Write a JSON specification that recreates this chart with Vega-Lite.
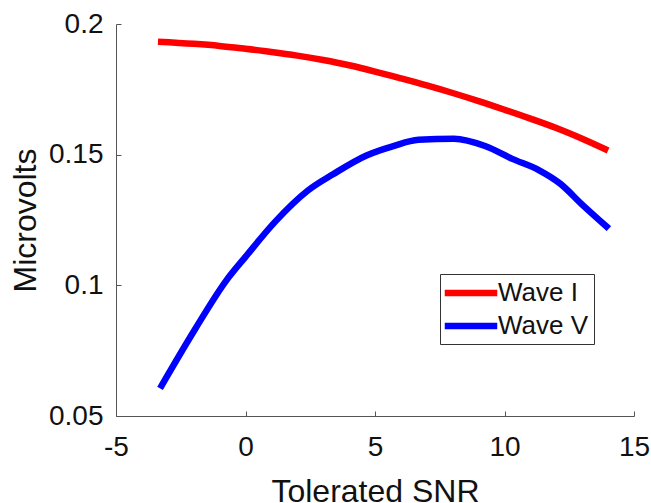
{
  "$schema": "https://vega.github.io/schema/vega-lite/v6.json",
  "width": 518,
  "height": 392,
  "autosize": {"type": "none"},
  "padding": {"left": 116, "top": 24, "right": 17, "bottom": 87},
  "background": "white",
  "config": {
    "view": {"stroke": null},
    "font": "Liberation Sans"
  },
  "data": {
    "values": [
      {"snr": -3.38, "uv": 0.1932, "wave": "Wave I"},
      {"snr": -2.0, "uv": 0.1924, "wave": "Wave I"},
      {"snr": -1.0, "uv": 0.1916, "wave": "Wave I"},
      {"snr": 0.0, "uv": 0.1905, "wave": "Wave I"},
      {"snr": 1.0, "uv": 0.1893, "wave": "Wave I"},
      {"snr": 2.0, "uv": 0.1879, "wave": "Wave I"},
      {"snr": 3.0, "uv": 0.1862, "wave": "Wave I"},
      {"snr": 4.0, "uv": 0.1842, "wave": "Wave I"},
      {"snr": 5.0, "uv": 0.1818, "wave": "Wave I"},
      {"snr": 6.0, "uv": 0.1792, "wave": "Wave I"},
      {"snr": 7.0, "uv": 0.1765, "wave": "Wave I"},
      {"snr": 8.0, "uv": 0.1736, "wave": "Wave I"},
      {"snr": 9.0, "uv": 0.1705, "wave": "Wave I"},
      {"snr": 10.0, "uv": 0.1672, "wave": "Wave I"},
      {"snr": 11.0, "uv": 0.1638, "wave": "Wave I"},
      {"snr": 12.0, "uv": 0.1602, "wave": "Wave I"},
      {"snr": 13.0, "uv": 0.1561, "wave": "Wave I"},
      {"snr": 14.0, "uv": 0.1516, "wave": "Wave I"},
      {"snr": -3.30, "uv": 0.0606, "wave": "Wave V"},
      {"snr": -1.93, "uv": 0.0835, "wave": "Wave V"},
      {"snr": -0.73, "uv": 0.1020, "wave": "Wave V"},
      {"snr": 0.0, "uv": 0.1109, "wave": "Wave V"},
      {"snr": 1.13, "uv": 0.1242, "wave": "Wave V"},
      {"snr": 2.41, "uv": 0.1363, "wave": "Wave V"},
      {"snr": 3.38, "uv": 0.1425, "wave": "Wave V"},
      {"snr": 4.67, "uv": 0.1497, "wave": "Wave V"},
      {"snr": 5.71, "uv": 0.1533, "wave": "Wave V"},
      {"snr": 6.68, "uv": 0.1557, "wave": "Wave V"},
      {"snr": 8.05, "uv": 0.1561, "wave": "Wave V"},
      {"snr": 9.25, "uv": 0.1533, "wave": "Wave V"},
      {"snr": 10.30, "uv": 0.1484, "wave": "Wave V"},
      {"snr": 11.34, "uv": 0.1440, "wave": "Wave V"},
      {"snr": 12.15, "uv": 0.1389, "wave": "Wave V"},
      {"snr": 13.03, "uv": 0.1306, "wave": "Wave V"},
      {"snr": 14.03, "uv": 0.1217, "wave": "Wave V"}
    ]
  },
  "encoding": {
    "x": {
      "field": "snr",
      "type": "quantitative",
      "scale": {"domain": [-5, 15], "nice": false, "zero": false},
      "axis": {
        "title": "Tolerated SNR",
        "values": [-5, 0, 5, 10, 15],
        "labelExpr": "toString(datum.value)",
        "grid": false,
        "domainColor": "#555555",
        "tickColor": "#555555",
        "tickSize": -5,
        "labelPadding": 22,
        "labelFontSize": 28,
        "labelColor": "#111111",
        "labelFont": "Liberation Sans",
        "labelFlush": false,
        "labelOverlap": false,
        "titleFontSize": 32,
        "titleFontWeight": "normal",
        "titleColor": "#111111",
        "titleFont": "Liberation Sans",
        "titleBaseline": "alphabetic",
        "titleY": 85
      }
    },
    "y": {
      "field": "uv",
      "type": "quantitative",
      "scale": {"domain": [0.05, 0.2], "nice": false, "zero": false},
      "axis": {
        "title": "Microvolts",
        "values": [0.05, 0.1, 0.15, 0.2],
        "labelExpr": "toString(datum.value)",
        "grid": false,
        "domainColor": "#555555",
        "tickColor": "#555555",
        "tickSize": -5,
        "labelPadding": 18,
        "labelFontSize": 28,
        "labelColor": "#111111",
        "labelFont": "Liberation Sans",
        "labelFlush": false,
        "labelOverlap": false,
        "titleFontSize": 32,
        "titleFontWeight": "normal",
        "titleColor": "#111111",
        "titleFont": "Liberation Sans",
        "titleBaseline": "alphabetic",
        "titleX": -81,
        "titleAngle": -90
      }
    },
    "color": {
      "field": "wave",
      "type": "nominal",
      "scale": {"domain": ["Wave I", "Wave V"], "range": ["#ff0000", "#0000ff"]},
      "legend": {
        "title": null,
        "orient": "none",
        "legendX": 324,
        "legendY": 250,
        "symbolType": "M-2.5,0H2.5",
        "symbolSize": 441,
        "symbolStrokeWidth": 6.5,
        "symbolOffset": 12,
        "labelFontSize": 26,
        "labelFont": "Liberation Sans",
        "labelColor": "#111111",
        "labelOffset": 13,
        "rowPadding": 6,
        "padding": 5,
        "strokeColor": "#333333",
        "fillColor": "white",
        "cornerRadius": 0
      }
    }
  },
  "layer": [
    {
      "transform": [{"filter": "datum.wave === 'Wave I'"}],
      "mark": {"type": "line", "strokeWidth": 6.5, "clip": false, "interpolate": "monotone"}
    },
    {
      "transform": [{"filter": "datum.wave === 'Wave V'"}],
      "mark": {"type": "line", "strokeWidth": 6.5, "clip": false, "interpolate": "monotone"}
    }
  ]
}
